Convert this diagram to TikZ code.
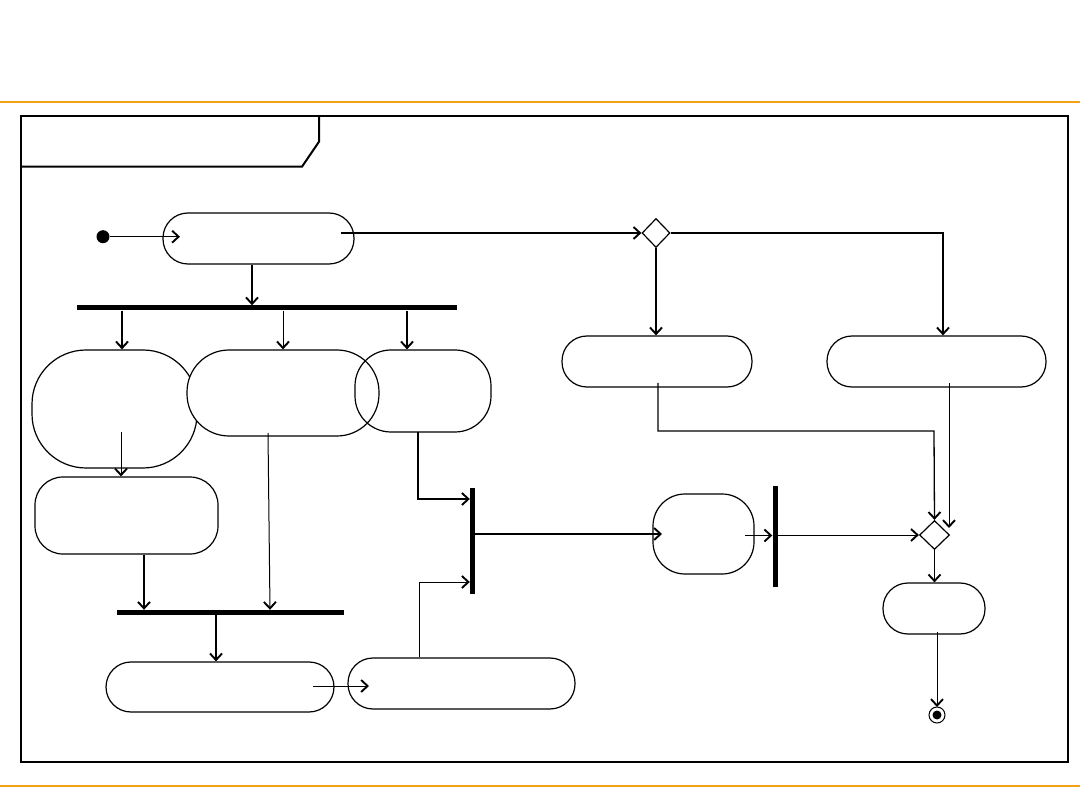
\documentclass[tikz,border=0pt]{standalone}
\usetikzlibrary{arrows.meta,shapes.geometric,calc}
\definecolor{rule}{RGB}{247,160,20}
\tikzset{
  act/.style={draw=black,line width=1.2pt,fill=white,inner sep=0pt},
  bar/.style={fill=black,draw=none,inner sep=0pt},
  dec/.style={draw=black,line width=1.2pt,fill=white,diamond,inner sep=0pt},
  tip/.style={-{Straight Barb[length=6.5pt,width=12pt,line width=1.9pt]}},
  thk/.style={tip,line width=1.8pt},
  thn/.style={tip,line width=1pt}
}
\begin{document}
\begin{tikzpicture}[x=1pt,y=-1pt]
\useasboundingbox (0,0) rectangle (1080,810);
% orange rules
\draw[rule,line width=2.2pt] (0,101.7) -- (1080,101.7);
\draw[rule,line width=2.2pt] (0,785.7) -- (1080,785.7);
% frame
\draw[line width=2pt] (21,115.7) rectangle (1067.5,761.7);
\draw[line width=2pt] (21,166.7) -- (302,166.7) -- (319,141.7) -- (319,115.7);

% nodes
\node[circle,fill=black,inner sep=0pt,minimum size=13pt] (init) at (103,236.7) {};
\node[act,rounded corners=25pt,minimum width=191pt,minimum height=51pt] (A) at (258.5,238.5) {};
\node[bar,minimum width=380pt,minimum height=5pt] (bar1) at (267,308) {};
\node[act,rounded corners=54pt,minimum width=165pt,minimum height=118pt] (B1) at (114.5,409) {};
\node[act,rounded corners=42pt,minimum width=192pt,minimum height=86pt] (B2) at (283,393) {};
\node[act,rounded corners=36pt,minimum width=136pt,minimum height=82pt,fill=none] (B3) at (423,391) {};
\node[act,rounded corners=28pt,minimum width=183pt,minimum height=77pt] (C1) at (126.5,515.5) {};
\node[bar,minimum width=227pt,minimum height=5pt] (bar2) at (230.5,612.5) {};
\node[act,rounded corners=25pt,minimum width=228pt,minimum height=50pt] (D1) at (220,687) {};
\node[act,rounded corners=25pt,minimum width=227pt,minimum height=51pt] (D2) at (461.5,683.5) {};
\node[bar,minimum width=5pt,minimum height=106pt] (jbar1) at (472.5,541) {};
\node[act,rounded corners=32pt,minimum width=101pt,minimum height=80pt] (E) at (703.5,534) {};
\node[bar,minimum width=5pt,minimum height=101pt] (jbar2) at (775,536.5) {};
\node[dec,minimum width=28pt,minimum height=29pt] (dec1) at (656,233) {};
\node[act,rounded corners=25pt,minimum width=190pt,minimum height=51pt] (F1) at (657,361.5) {};
\node[act,rounded corners=25pt,minimum width=219pt,minimum height=51pt] (F2) at (936.5,361.5) {};
\node[dec,minimum width=30pt,minimum height=29pt] (dec2) at (934.5,535) {};
\node[act,rounded corners=25pt,minimum width=102pt,minimum height=51pt] (G) at (934,608.5) {};
\node[circle,draw=black,line width=1pt,fill=white,inner sep=0pt,minimum size=16pt] (fin) at (937,715) {};
\node[circle,fill=black,inner sep=0pt,minimum size=9pt] (fincore) at (fin) {};

% free ends inside nodes
\coordinate (aout) at ($(A.east|-dec1.west)+(-14,0)$);
\coordinate (ain) at (180,236.7);
\coordinate (b1in) at (121,432);
\coordinate (b2out) at (268,433);
\coordinate (b3out) at (418,432);
\coordinate (d1out) at (313,686);
\coordinate (d2in) at (369,686);
\coordinate (eout) at (745,535.5);
\coordinate (ein) at (662,534);
\coordinate (f1out) at (658,383);
\coordinate (f2out) at (949,383);
\coordinate (gout) at (937,632);

% connectors
\draw[thn] (init) -- (ain);
\draw[thk] (aout) -- (dec1.west);
\draw[thk] (252,0 |- A.south) -- (252,0 |- bar1.north);
\draw[thk] (122,0 |- bar1.south) -- (122,0 |- B1.north);
\draw[thn] (283,0 |- bar1.south) -- (283,0 |- B2.north);
\draw[thk] (407,0 |- bar1.south) -- (407,0 |- B3.north);
\draw[thn] (b1in) -- (b1in |- C1.north);
\draw[thn] (b2out) -- (270,0 |- bar2.north);
\draw[thk] (144,0 |- C1.south) -- (144,0 |- bar2.north);
\draw[thk] (216,0 |- bar2.south) -- (216,0 |- D1.north);
\draw[thn] (d1out) -- (d2in);
\draw[thn] (419,0 |- D2.north) -- (419,582) -- (jbar1.west |- 0,582);
\draw[thn,line width=1.3pt] (b3out) -- (418,499) -- (jbar1.west |- 0,499);
\draw[thk] (jbar1.east |- ein) -- (ein);
\draw[thn] (eout) -- (jbar2.west |- eout);
\draw[thn] (jbar2.east |- dec2.west) -- (dec2.west);
\draw[thk] (dec1.south) -- (dec1.south |- F1.north);
\draw[thk] (dec1.east) -- (943,0 |- dec1.east) -- (943,0 |- F2.north);
\draw[tip,line width=1.3pt] (f1out) -- (658,431) -- (934,431) -- (dec2.north);
\draw[thn] (f2out) -- (949,528);
\draw[thn] (dec2.south) -- (dec2.south |- G.north);
\draw[thn] (gout) -- (937,707);
\end{tikzpicture}
\end{document}
